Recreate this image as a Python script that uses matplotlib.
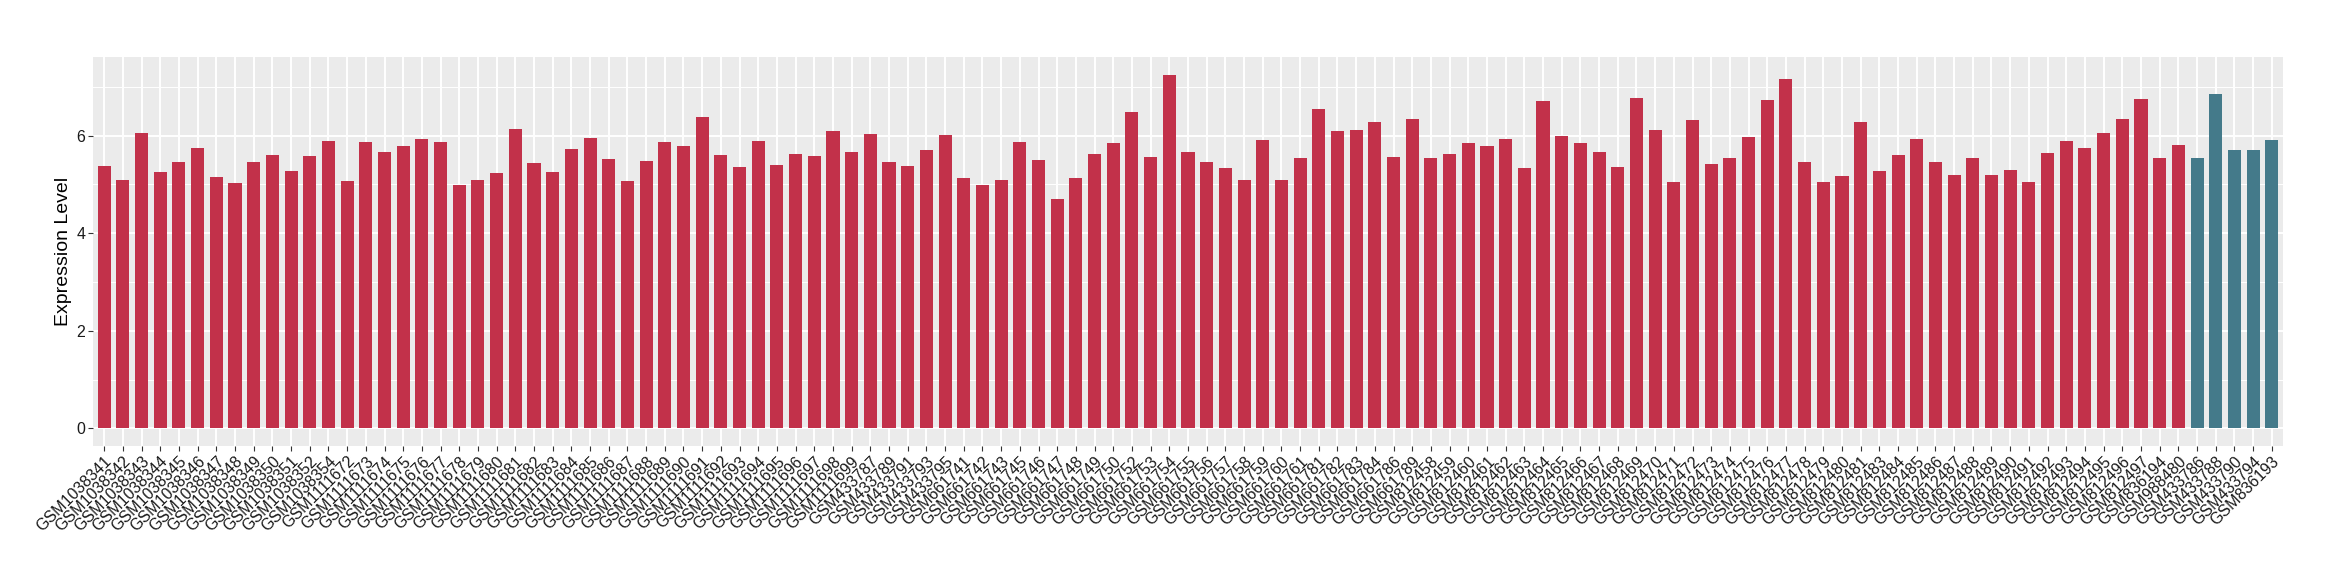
import matplotlib

matplotlib.use("Agg")
import matplotlib.pyplot as plt
from matplotlib.ticker import FixedLocator

plt.rcParams["font.family"] = ["Liberation Sans", "DejaVu Sans"]

# group 1 (red bars)
red_samples = [
    "GSM1038341", "GSM1038342", "GSM1038343", "GSM1038344", "GSM1038345",
    "GSM1038346", "GSM1038347", "GSM1038348", "GSM1038349", "GSM1038350",
    "GSM1038351", "GSM1038352", "GSM1038354",
    "GSM1111672", "GSM1111673", "GSM1111674", "GSM1111675", "GSM1111676",
    "GSM1111677", "GSM1111678", "GSM1111679", "GSM1111680", "GSM1111681",
    "GSM1111682", "GSM1111683", "GSM1111684", "GSM1111685", "GSM1111686",
    "GSM1111687", "GSM1111688", "GSM1111689", "GSM1111690", "GSM1111691",
    "GSM1111692", "GSM1111693", "GSM1111694", "GSM1111695", "GSM1111696",
    "GSM1111697", "GSM1111698", "GSM1111699",
    "GSM433787", "GSM433789", "GSM433791", "GSM433793", "GSM433795",
    "GSM661741", "GSM661742", "GSM661743", "GSM661745", "GSM661746",
    "GSM661747", "GSM661748", "GSM661749", "GSM661750", "GSM661752",
    "GSM661753", "GSM661754", "GSM661755", "GSM661756", "GSM661757",
    "GSM661758", "GSM661759", "GSM661760", "GSM661761", "GSM661781",
    "GSM661782", "GSM661783", "GSM661784", "GSM661786", "GSM661789",
    "GSM812458", "GSM812459", "GSM812460", "GSM812461", "GSM812462",
    "GSM812463", "GSM812464", "GSM812465", "GSM812466", "GSM812467",
    "GSM812468", "GSM812469", "GSM812470", "GSM812471", "GSM812472",
    "GSM812473", "GSM812474", "GSM812475", "GSM812476", "GSM812477",
    "GSM812478", "GSM812479", "GSM812480", "GSM812481", "GSM812483",
    "GSM812484", "GSM812485", "GSM812486", "GSM812487", "GSM812488",
    "GSM812489", "GSM812490", "GSM812491", "GSM812492", "GSM812493",
    "GSM812494", "GSM812495", "GSM812496", "GSM812497",
    "GSM836194", "GSM988480",
]
red_values = [
    5.37, 5.10, 6.05, 5.26, 5.45, 5.75, 5.16, 5.02, 5.47, 5.61,
    5.28, 5.59, 5.90, 5.08, 5.88, 5.67, 5.78, 5.94, 5.86, 4.98,
    5.10, 5.24, 6.14, 5.43, 5.26, 5.73, 5.96, 5.53, 5.08, 5.49,
    5.88, 5.78, 6.39, 5.61, 5.35, 5.90, 5.39, 5.63, 5.59, 6.10,
    5.67, 6.04, 5.45, 5.37, 5.71, 6.02, 5.14, 4.98, 5.10, 5.88,
    5.51, 4.71, 5.14, 5.63, 5.84, 6.49, 5.57, 7.25, 5.67, 5.45,
    5.33, 5.10, 5.92, 5.10, 5.55, 6.55, 6.10, 6.12, 6.27, 5.57,
    6.35, 5.55, 5.63, 5.84, 5.78, 5.94, 5.33, 6.72, 6.00, 5.84,
    5.67, 5.35, 6.78, 6.12, 5.04, 6.33, 5.41, 5.55, 5.98, 6.74,
    7.17, 5.47, 5.06, 5.18, 6.27, 5.28, 5.61, 5.94, 5.45,
    5.20, 5.55, 5.20, 5.30, 5.05, 5.65, 5.90, 5.75, 6.05, 6.35,
    6.75, 5.55, 5.80,
]

# group 2 (blue bars)
blue_samples = ["GSM433786", "GSM433788", "GSM433790", "GSM433794", "GSM836193"]
blue_values = [5.55, 6.85, 5.70, 5.70, 5.92]

RED = "#C2314A"
BLUE = "#447A8A"
PANEL_BG = "#EBEBEB"


def main() -> None:
    samples = red_samples + blue_samples
    values = red_values + blue_values
    colors = [RED] * len(red_samples) + [BLUE] * len(blue_samples)
    xs = list(range(len(samples)))

    fig = plt.figure(figsize=(23.4, 5.8), dpi=100)
    ax = fig.add_axes([93 / 2340, 134 / 580, 2190 / 2340, 389 / 580])
    ax.set_facecolor(PANEL_BG)

    ax.bar(xs, values, width=0.7, color=colors, zorder=3)

    ymax = max(values)
    ax.set_xlim(-0.6, len(samples) - 0.4)
    ax.set_ylim(-0.05 * ymax, 1.05 * ymax)

    ax.set_xticks(xs)
    ax.set_xticklabels(samples, rotation=45, ha="right", va="top",
                       rotation_mode="anchor", fontsize=11.5, color="#1A1A1A")
    ax.set_yticks([0, 2, 4, 6])
    ax.yaxis.set_minor_locator(FixedLocator([1, 3, 5, 7]))
    ax.tick_params(axis="both", which="major", length=3.5, width=0.8,
                   color="#333333", labelsize=11.5, labelcolor="#1A1A1A", pad=2)
    ax.tick_params(axis="y", which="minor", length=0)

    ax.grid(True, which="major", color="white", linewidth=1.4, zorder=0)
    ax.grid(True, which="minor", axis="y", color="white", linewidth=0.7, zorder=0)
    ax.set_axisbelow(True)

    for spine in ax.spines.values():
        spine.set_visible(False)

    ax.set_ylabel("Expression Level", fontsize=14, color="black", labelpad=3)

    fig.savefig("out.png", dpi=100, facecolor="white")
    plt.close(fig)


if __name__ == "__main__":
    main()
